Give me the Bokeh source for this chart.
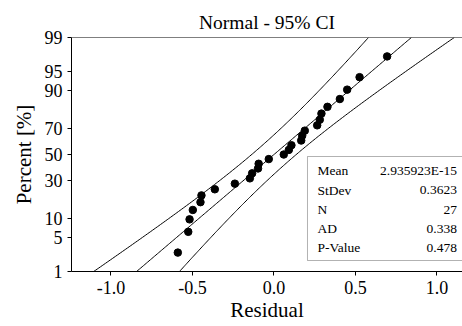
from statistics import NormalDist
import numpy as np
from bokeh.plotting import figure
from bokeh.models import Range1d, FixedTicker, Span, BoxAnnotation, Label, NumeralTickFormatter
from bokeh.embed import file_html
from bokeh.resources import INLINE

# ---- data ----
residuals = [-0.590, -0.526, -0.518, -0.498, -0.451, -0.445, -0.363, -0.240, -0.148,
             -0.134, -0.098, -0.094, -0.032, 0.060, 0.091, 0.107, 0.167, 0.173, 0.189,
             0.265, 0.281, 0.291, 0.328, 0.404, 0.449, 0.525, 0.694]
percent_ticks = [1, 5, 10, 30, 50, 70, 90, 95, 99]
x_ticks = [-1.0, -0.5, 0.0, 0.5, 1.0]
stat_names = ["Mean", "StDev", "N", "AD", "P-Value"]
stat_values = ["2.935923E-15", "0.3623", "27", "0.338", "0.478"]
MEAN = 2.935923e-15
STDEV = 0.3623
N = 27
CONF = 0.95

nd = NormalDist()
FONT = "'Liberation Serif', 'Times New Roman', serif"

# plotting positions (median ranks) and normal scores
n = len(residuals)
xs = sorted(residuals)
ys = [nd.inv_cdf((i + 1 - 0.3) / (n + 0.4)) for i in range(n)]

y_lo = nd.inv_cdf(0.01)
y_hi = nd.inv_cdf(0.99)

p = figure(width=462, height=326, output_backend="svg", toolbar_location=None,
           x_range=Range1d(-1.2423, 1.1565), y_range=Range1d(y_lo, y_hi),
           min_border_left=71, min_border_right=0, min_border_top=37, min_border_bottom=55)
p.outline_line_color = None
p.grid.visible = False
p.background_fill_color = "white"
p.border_fill_color = "white"

# top frame line
p.add_layout(Span(location=y_hi, dimension="width", line_color="black", line_width=1))

# fitted line and confidence bands
zg = np.linspace(y_lo, y_hi, 200)
zc = nd.inv_cdf(0.5 + CONF / 2)
fit = MEAN + STDEV * zg
half = zc * STDEV * np.sqrt((1 + zg ** 2 / 2) / N)
p.line(fit, zg, line_color="black", line_width=1)
p.line(fit - half, zg, line_color="black", line_width=1)
p.line(fit + half, zg, line_color="black", line_width=1)

p.scatter(xs, ys, size=7.5, color="black")

# axes
for ax in (p.xaxis[0], p.yaxis[0]):
    ax.axis_line_color = "black"
    ax.major_tick_line_color = "black"
    ax.major_tick_out = 4
    ax.major_tick_in = 0
    ax.minor_tick_line_color = None
    ax.major_label_text_font = FONT
    ax.major_label_text_font_size = "18px"
    ax.major_label_text_color = "black"
    ax.axis_label_text_font = FONT
    ax.axis_label_text_font_size = "21px"
    ax.axis_label_text_font_style = "normal"
    ax.axis_label_text_color = "black"

p.xaxis.ticker = FixedTicker(ticks=x_ticks)
p.xaxis.formatter = NumeralTickFormatter(format="0.0")
p.xaxis.axis_label = "Residual"
p.xaxis.major_label_standoff = 5
p.xaxis.axis_label_standoff = 1

zt = [nd.inv_cdf(v / 100) for v in percent_ticks]
p.yaxis.ticker = FixedTicker(ticks=zt)
p.yaxis.major_label_overrides = {z: str(v) for z, v in zip(zt, percent_ticks)}
p.yaxis.axis_label = "Percent [%]"
p.yaxis.major_label_standoff = 5
p.yaxis.axis_label_standoff = 6

p.title.text = "Normal - 95% CI"
p.title.align = "center"
p.title.text_font = FONT
p.title.text_font_size = "19.5px"
p.title.text_font_style = "normal"
p.title.text_color = "black"


def py2z(py):
    return y_hi - (py - 37) / 234 * (y_hi - y_lo)


def px2x(px):
    return (px - 273.5) / 163


# statistics box
p.add_layout(BoxAnnotation(left=px2x(307), right=1.3, top=py2z(156), bottom=py2z(260),
                           fill_color="white", fill_alpha=1, line_color="black",
                           line_width=1))
rows = [170, 189.5, 209, 228, 247]
for name, val, ry in zip(stat_names, stat_values, rows):
    p.add_layout(Label(x=px2x(317), y=py2z(ry), text=name, text_font=FONT,
                       text_font_size="13.5px", text_baseline="middle",
                       text_align="left", text_color="black"))
    p.add_layout(Label(x=px2x(456.5), y=py2z(ry), text=val, text_font=FONT,
                       text_font_size="13.5px", text_baseline="middle",
                       text_align="right", text_color="black"))

open("out.html", "w").write(file_html(p, INLINE))
